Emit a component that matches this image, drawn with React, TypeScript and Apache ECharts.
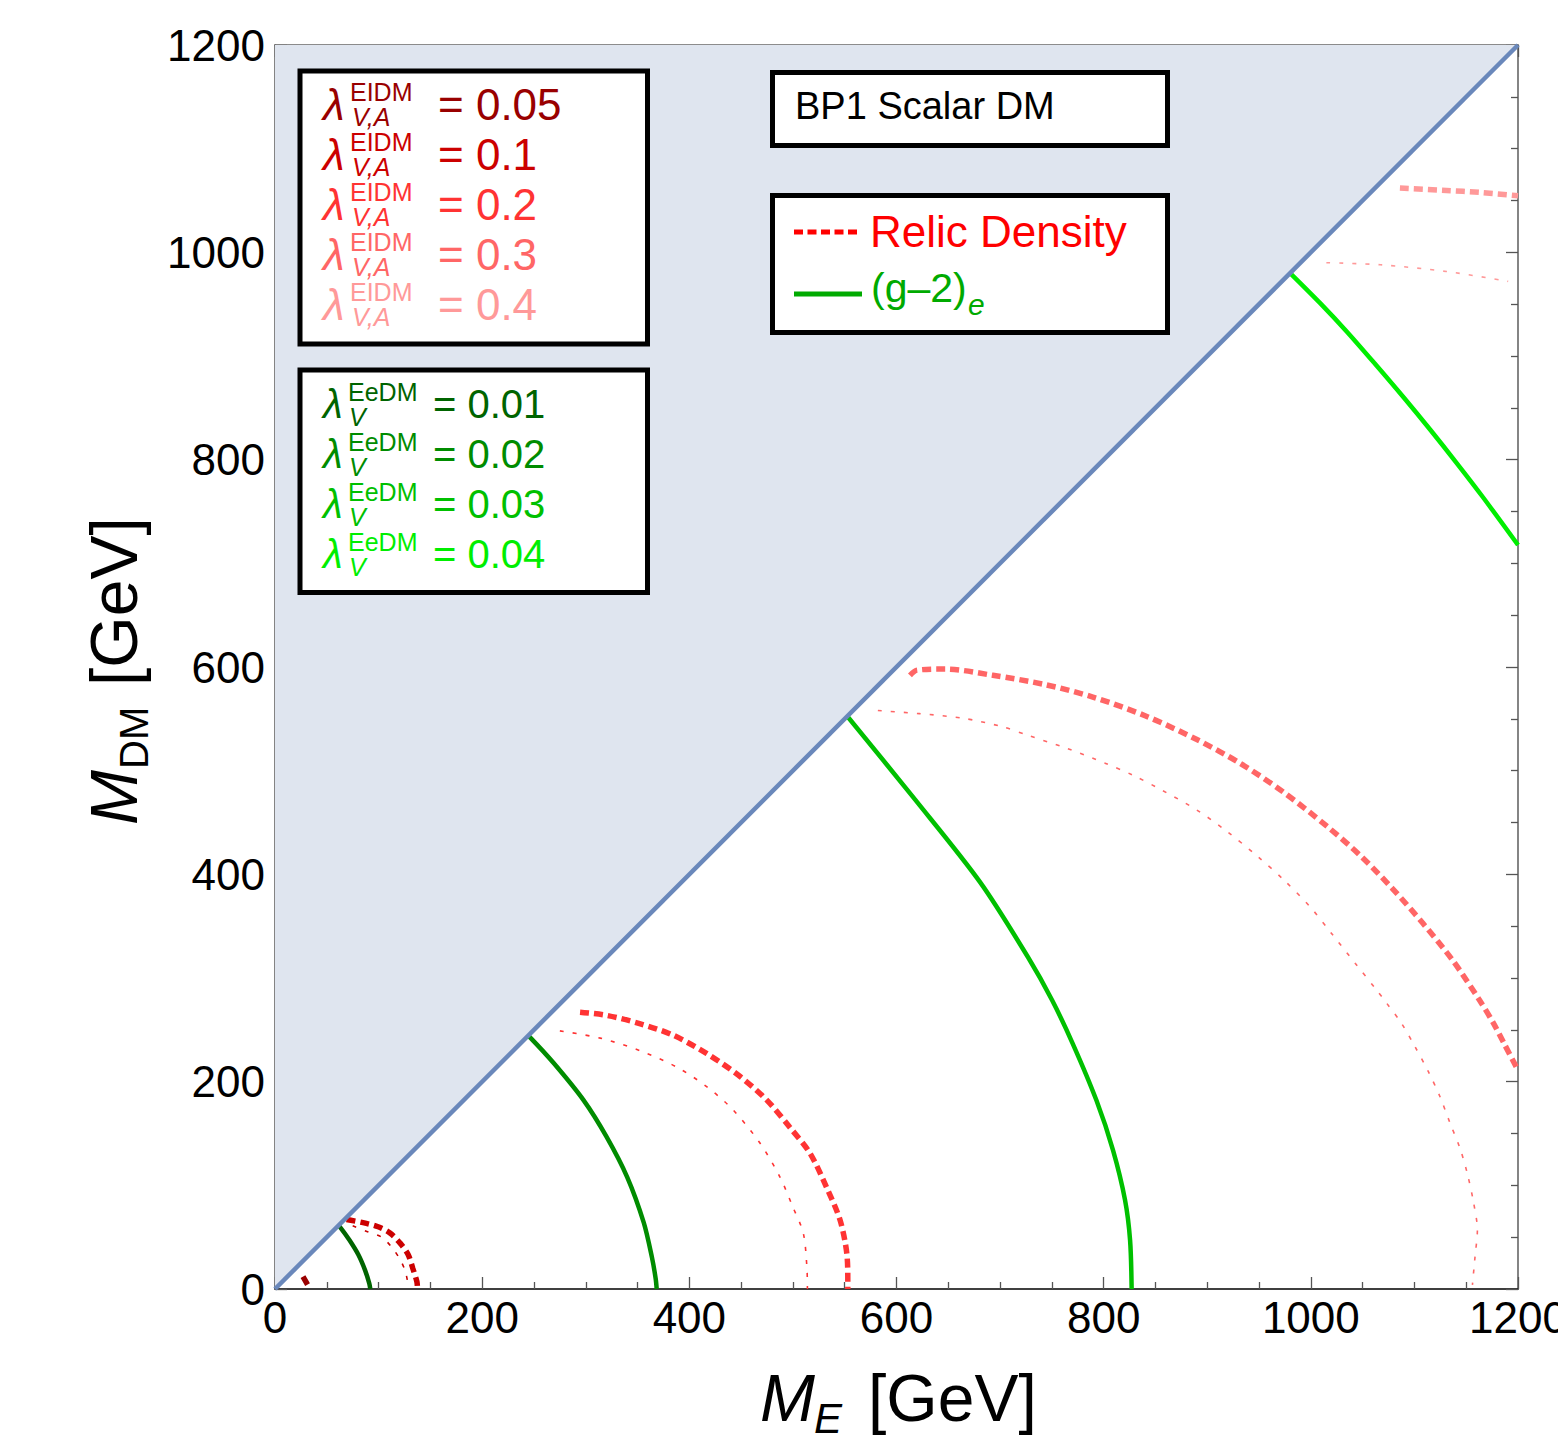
import React, { useEffect, useRef } from "react";
import * as echarts from "echarts";

const FONT = '"Liberation Sans", Arial, Helvetica, sans-serif';

const axisMin = 0;
const axisMax = 1200;
const axisStep = 200;

const diagonal = [[0, 0], [1200, 1200]];

// (g-2)_e contours, lambda_V^EeDM = 0.01 ... 0.04
const g2_001 = [[61, 61], [63, 59.5], [72, 47], [80.5, 33], [87, 18], [91, 5.5], [92, 0]];
const g2_002 = [[244, 244], [246, 243], [269, 218], [298, 182], [320, 147], [340, 108], [356, 64], [364, 30], [367.5, 10], [368.5, 0]];
const g2_003 = [[552.5, 552.5], [618, 472], [681, 392], [727, 320], [750, 279], [770, 237], [793, 182], [809, 134], [820.6, 86], [825.5, 47], [827, 0]];
const g2_004 = [[980, 980], [1009, 951], [1034.8, 923.5], [1061.5, 893], [1090.5, 859], [1115.5, 828.6], [1141, 796.5], [1166, 764], [1200, 717.7]];

// Relic density contours (thick dashed / thin dotted), lambda_V,A^EIDM = 0.05 ... 0.4
const relic005Thick = [[27, 12], [31.5, 4]];
const relic01Thick = [[69, 67], [85, 64], [99.5, 60], [111, 54], [121, 44], [128.6, 33], [133, 20], [137, 7], [137.5, 1]];
const relic01Thin = [[75, 61], [90, 55], [103, 50], [113, 40], [121, 28], [125.5, 18], [128, 7], [128.5, 0]];
const relic02Thick = [[294.5, 267], [320, 264], [352, 256], [384, 245], [417, 227], [449, 205], [475, 182], [497, 156], [516.5, 131], [532.5, 98], [545.5, 66.5], [552, 34.5], [553, 6], [553, 0]];
const relic02Thin = [[275, 249], [314, 242], [352, 230], [388, 214], [417, 195], [442, 173], [468, 141], [487.5, 108], [500, 79], [510, 54], [513.5, 21], [514, 0]];
const relic03Thick = [[613, 592], [620, 597], [647, 598], [693, 592], [743.6, 583], [789.6, 571], [840, 553], [890, 530], [932, 507], [974, 479], [1016, 446], [1049, 417], [1079, 386], [1108, 353], [1137, 317], [1162.6, 279], [1176, 257], [1187.5, 235], [1200, 211]];
const relic03Thin = [[582, 558], [622, 555], [664, 550.6], [701.7, 542.5], [727, 534], [764.5, 521.5], [802, 507], [827.5, 496], [856.6, 481], [890, 462], [919.5, 441], [949, 417], [974, 394.5], [999, 369], [1020, 343], [1043, 314], [1063, 289], [1073, 276], [1087.7, 256], [1100.6, 233.7], [1113.5, 209.6], [1124.7, 185.5], [1134.4, 160], [1144, 135.7], [1151, 111.6], [1157, 84], [1160.8, 57], [1158.5, 31], [1156, 4]];
const relic04Thick = [[1086, 1062], [1131, 1059.7], [1163, 1057.8], [1200, 1054.6]];
const relic04Thin = [[1015, 990], [1067, 988], [1131, 981.5], [1190.5, 972]];

const relicColors = ["#990000", "#cc0000", "#ff3333", "#ff6666", "#ff9999"];
const g2Colors = ["#006400", "#008c00", "#00c000", "#00ee00"];
const eidmValues = ["0.05", "0.1", "0.2", "0.3", "0.4"];
const eedmValues = ["0.01", "0.02", "0.03", "0.04"];

function thick(data: number[][], color: string) {
  return {
    type: "line", data, symbol: "none", showSymbol: false, smooth: 0.3, silent: true, z: 3,
    lineStyle: { color, width: 5.5, type: [9, 5], cap: "butt" },
  };
}
function thin(data: number[][], color: string) {
  return {
    type: "line", data, symbol: "none", showSymbol: false, smooth: 0.3, silent: true, z: 3,
    lineStyle: { color, width: 1.6, type: [4, 9], cap: "butt" },
  };
}
function solid(data: number[][], color: string) {
  return {
    type: "line", data, symbol: "none", showSymbol: false, smooth: 0.3, silent: true, z: 3,
    lineStyle: { color, width: 4.5 },
  };
}

function txt(text: string, x: number, y: number, size: number, fill: string, italic = false, extra: any = {}) {
  return {
    type: "text", x, y, z: 110,
    style: {
      text, fill, fontSize: size, fontFamily: FONT, fontStyle: italic ? "italic" : "normal",
      align: "left", verticalAlign: "middle", textAlign: "left", textVerticalAlign: "middle",
    },
    ...extra,
  };
}

function box(x: number, y: number, w: number, h: number) {
  return {
    type: "rect", z: 100, shape: { x, y, width: w, height: h },
    style: { fill: "#ffffff", stroke: "#000000", lineWidth: 5 },
  };
}

export default function App() {
  const ref = useRef<HTMLDivElement>(null);
  useEffect(() => {
    if (!ref.current) return;
    const chart = echarts.init(ref.current, undefined, { renderer: "svg" });

    const axisCommon = (color: string) => ({
      type: "value", min: axisMin, max: axisMax, interval: axisStep,
      axisLine: { show: true, onZero: false, lineStyle: { color, width: 1.6 } },
      axisTick: { show: true, inside: true, length: 12, lineStyle: { color: "#555", width: 1.3 } },
      minorTick: { show: true, splitNumber: 4, length: 7, lineStyle: { color: "#555", width: 1.3 } },
      splitLine: { show: false },
    });

    const graphics: any[] = [];
    // Box 1
    graphics.push(box(300, 71, 347.5, 273));
    eidmValues.forEach((v, i) => {
      const y = 104 + 50 * i;
      const c = relicColors[i];
      graphics.push(txt("λ", 323, y, 44, c, true));
      graphics.push(txt("EIDM", 350, y - 12, 25, c));
      graphics.push(txt("V,A", 352, y + 13, 25, c, true));
      graphics.push(txt("= " + v, 438, y, 44, c));
    });
    // Box 2
    graphics.push(box(300, 370, 347.5, 222.5));
    eedmValues.forEach((v, i) => {
      const y = 404 + 50 * i;
      const c = g2Colors[i];
      graphics.push(txt("λ", 323, y, 40, c, true));
      graphics.push(txt("EeDM", 348, y - 12, 25, c));
      graphics.push(txt("V", 349, y + 13, 25, c, true));
      graphics.push(txt("= " + v, 433, y, 40, c));
    });
    // Box 3
    graphics.push(box(772.5, 72.5, 395, 73));
    graphics.push(txt("BP1 Scalar DM", 795, 106, 38, "#000"));
    // Box 4
    graphics.push(box(772.5, 195.5, 395, 137));
    graphics.push({
      type: "line", z: 110, shape: { x1: 794, y1: 232, x2: 857, y2: 232 },
      style: { stroke: "#ff0000", lineWidth: 5, lineDash: [9, 4.5] },
    });
    graphics.push(txt("Relic Density", 870, 231, 44, "#ff0000"));
    graphics.push({
      type: "line", z: 110, shape: { x1: 794, y1: 294, x2: 862, y2: 294 },
      style: { stroke: "#00aa00", lineWidth: 5 },
    });
    graphics.push(txt("(g–2)", 871, 288, 41, "#00aa00"));
    graphics.push(txt("e", 968, 304, 30, "#00aa00", true));

    // X axis title
    graphics.push(txt("M", 760, 1398, 66, "#000", true));
    graphics.push(txt("E", 814, 1418, 42, "#000", true));
    graphics.push(txt("[GeV]", 868, 1398, 66, "#000"));

    // Y axis title (rotated)
    graphics.push({
      type: "group", x: 114, y: 825, rotation: Math.PI / 2, z: 110,
      children: [
        txt("M", 0, 0, 66, "#000", true),
        txt("DM", 56, 20, 40, "#000"),
        txt("[GeV]", 139, 0, 66, "#000"),
      ],
    });

    const labelFmt = (v: number) => String(v);

    const option: any = {
      animation: false,
      backgroundColor: "#ffffff",
      grid: { left: 275, top: 45, right: 40, bottom: 156, containLabel: false, outerBoundsMode: "none" },
      xAxis: [
        { ...axisCommon("#000"), position: "bottom",
          axisLabel: { show: true, fontSize: 44, color: "#000", fontFamily: FONT, margin: 6, formatter: labelFmt } },
        { ...axisCommon("#666"), position: "top", axisLabel: { show: false } },
      ],
      yAxis: [
        { ...axisCommon("#666"), position: "left",
          axisLabel: { show: true, fontSize: 44, color: "#000", fontFamily: FONT, margin: 10, formatter: labelFmt } },
        { ...axisCommon("#666"), position: "right", axisLabel: { show: false } },
      ],
      series: [
        thick(relic005Thick, relicColors[0]),
        thick(relic01Thick, relicColors[1]),
        thin(relic01Thin, relicColors[1]),
        thick(relic02Thick, relicColors[2]),
        thin(relic02Thin, relicColors[2]),
        thick(relic03Thick, relicColors[3]),
        thin(relic03Thin, relicColors[3]),
        thick(relic04Thick, relicColors[4]),
        thin(relic04Thin, relicColors[4]),
        solid(g2_001, g2Colors[0]),
        solid(g2_002, g2Colors[1]),
        solid(g2_003, g2Colors[2]),
        solid(g2_004, g2Colors[3]),
        {
          type: "line", data: diagonal, symbol: "none", showSymbol: false, silent: true, z: 4,
          lineStyle: { color: "#6a88bb", width: 4.5 },
          areaStyle: { color: "#dfe5ef", origin: "end", opacity: 1 },
        },
      ],
      graphic: { elements: graphics },
    };
    chart.setOption(option);
    return () => chart.dispose();
  }, []);
  return (
    <div
      ref={ref}
      style={{ position: "absolute", left: 0, top: 0, width: 1558, height: 1445, background: "#fff" }}
    />
  );
}
